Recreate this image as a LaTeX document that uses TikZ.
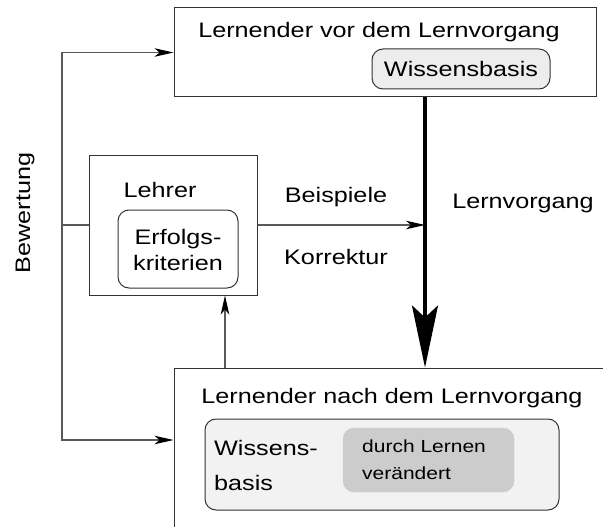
\documentclass[tikz,border=0pt]{standalone}
\usepackage{fontspec}
\setmainfont{Liberation Sans}[FakeStretch=1.2]
\usetikzlibrary{arrows.meta}
\begin{document}
\begin{tikzpicture}[x=1pt,y=-1pt,
  txt/.style={font=\fontsize{21}{26}\selectfont, inner sep=0pt},
  smalltxt/.style={font=\fontsize{17.5}{27}\selectfont, inner sep=0pt},
  frame/.style={draw=black!80, line width=1pt, inner sep=0pt},
  rbox/.style={frame, rounded corners=11pt},
  conn/.style={draw=black!65, line width=1.1pt},
  arr/.style={conn, -{Stealth[length=19pt,width=8.5pt,inset=5pt,color=black]}},
  bigarr/.style={draw=black, line width=3.4pt, -{Stealth[length=62pt,width=26pt,inset=12pt]}}]
\clip (0,0) rectangle (603,527);
\useasboundingbox (0,0) rectangle (603,527);

% learner before learning
\node[frame, minimum width=422pt, minimum height=89pt] (before) at (385,52.5) {};
\node[txt] (beforelbl) at (379,32) {Lernender vor dem Lernvorgang};
\node[rbox, fill=black!7, minimum width=178pt, minimum height=40pt] (kb1) at (461,69) {};
\node[txt] (kb1lbl) at (kb1) {Wissensbasis};

% teacher
\node[frame, minimum width=168pt, minimum height=140pt] (lehrer) at (173,225) {};
\node[txt] (lehrerlbl) at (160,190) {Lehrer};
\node[rbox, minimum width=120pt, minimum height=78pt] (krit) at (178,249) {};
\node[txt, align=center] (kritlbl) at (178,250) {Erfolgs-\\kriterien};

% learner after learning
\node[frame, minimum width=446pt, minimum height=177pt] (after) at (397,456.5) {};
\node[txt] (afterlbl) at (392,398) {Lernender nach dem Lernvorgang};
\node[rbox, fill=black!5, minimum width=354pt, minimum height=91pt] (kb2) at (382,464.5) {};
\node[txt, align=left, anchor=west] (kb2lbl) at (214,465) {Wissens-\\[9pt]basis};
\node[draw=black!20, fill=black!20, rounded corners=11pt, minimum width=171pt, minimum height=64pt] (changed) at (428.5,460) {};
\node[smalltxt, align=left, anchor=west] (changedlbl) at (362,459.5) {durch Lernen\\verändert};

% labels
\node[txt] (bsp) at (336,197) {Beispiele};
\node[txt] (korr) at (336,257) {Korrektur};
\node[txt] (lv) at (523,203) {Lernvorgang};
\node[txt, rotate=90] (bew) at (25,213) {Bewertung};

% connectors
\coordinate (bw) at (62,225);
\coordinate (lvx) at (425,0);
\coordinate (fbx) at (225,0);
\draw[conn] (lehrer.west) -- (bw);
\draw[arr] (bw) |- (before.west);
\draw[arr] (bw) |- ([yshift=16.5pt]after.west);
\draw[bigarr] (before.south -| lvx) -- (after.north -| lvx);
\draw[arr] (lehrer.east) -- (lehrer.east -| lvx);
\draw[arr] (after.north -| fbx) -- (lehrer.south -| fbx);
\end{tikzpicture}
\end{document}
